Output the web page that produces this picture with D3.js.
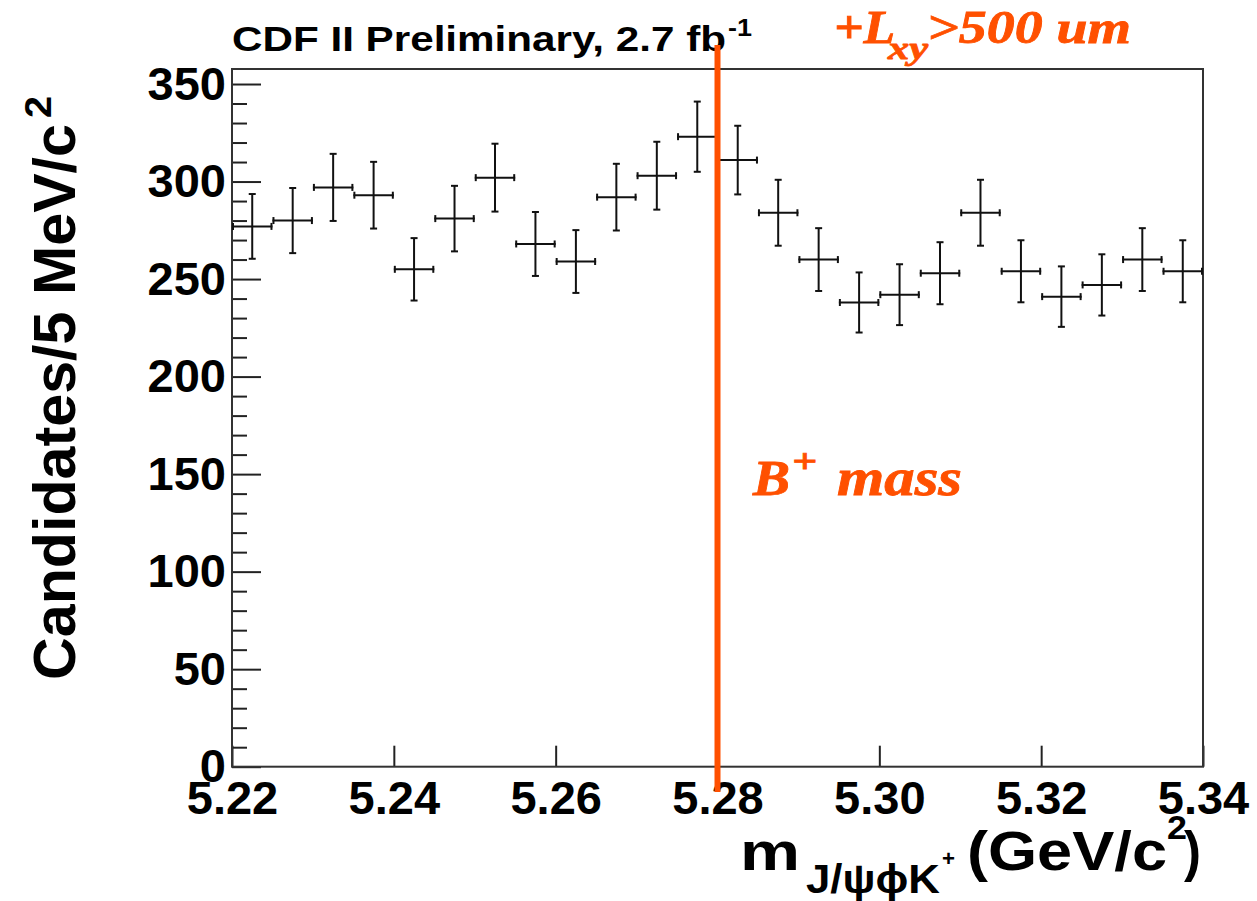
<!DOCTYPE html>
<html>
<head>
<meta charset="utf-8">
<script src="https://cdn.jsdelivr.net/npm/d3@7"></script>
<style>
  html, body { margin: 0; padding: 0; background: #fff; }
  svg { display: block; }
  .sans { font-family: "Liberation Sans", Arial, Helvetica, sans-serif; font-weight: bold; }
  .serif { font-family: "Liberation Serif", "Times New Roman", serif; font-weight: bold; font-style: italic; }
</style>
</head>
<body>
<svg id="chart" width="1257" height="901"></svg>
<script>
// ---- data ----
const binCenters = [5.2225, 5.2275, 5.2325, 5.2375, 5.2425, 5.2475, 5.2525, 5.2575,
                    5.2625, 5.2675, 5.2725, 5.2775, 5.2825, 5.2875, 5.2925, 5.2975,
                    5.3025, 5.3075, 5.3125, 5.3175, 5.3225, 5.3275, 5.3325, 5.3375];
const counts = [277, 280, 297, 293, 255, 281, 302, 268, 259, 292, 303, 323,
                311, 284, 260, 238, 242, 253, 284, 254, 241, 247, 260, 254];
const errors = [16.6, 16.7, 17.2, 17.1, 16.0, 16.8, 17.4, 16.4, 16.1, 17.1, 17.4, 18.0,
                17.6, 16.9, 16.1, 15.4, 15.6, 15.9, 16.9, 15.9, 15.5, 15.7, 16.1, 15.9];
const binHalfWidth = 0.0025;
const xTicks = [5.22, 5.24, 5.26, 5.28, 5.30, 5.32, 5.34];
const yTicks = [0, 50, 100, 150, 200, 250, 300, 350];
const yMinorTicks = [10,20,30,40,60,70,80,90,110,120,130,140,160,170,180,190,210,220,230,240,260,270,280,290,310,320,330,340];
const bMass = 5.280;

const svg = d3.select("#chart");
const L = 232, R = 1203, T = 69, B = 766.7;
const x = d3.scaleLinear().domain([5.22, 5.34]).range([L, R]);
const y = d3.scaleLinear().domain([0, 357.7]).range([B, T]);

// y minor ticks
const yMinor = svg.append("g").attr("transform", `translate(${L},0)`)
  .call(d3.axisLeft(y).tickValues(yMinorTicks).tickSizeInner(-15).tickSizeOuter(0).tickFormat(""));
yMinor.select(".domain").remove();
yMinor.selectAll("line").attr("stroke", "#222").attr("stroke-width", 2);

// y major
const yAx = svg.append("g").attr("transform", `translate(${L},0)`)
  .call(d3.axisLeft(y).tickValues(yTicks).tickSizeInner(-29).tickSizeOuter(0).tickPadding(6).tickFormat(d3.format("d")));
yAx.select(".domain").remove();
yAx.selectAll("line").attr("stroke", "#222").attr("stroke-width", 2);
yAx.selectAll("text").attr("class", "sans").attr("font-size", 47).attr("fill", "#000");

// x major
const xAx = svg.append("g").attr("transform", `translate(0,${B})`)
  .call(d3.axisBottom(x).tickValues(xTicks).tickSizeInner(-21).tickSizeOuter(0).tickPadding(14).tickFormat(d3.format(".2f")));
xAx.select(".domain").remove();
xAx.selectAll("line").attr("stroke", "#222").attr("stroke-width", 2);
xAx.selectAll("text").attr("class", "sans").attr("font-size", 47).attr("fill", "#000");

// frame
svg.append("rect").attr("x", L).attr("y", T).attr("width", R - L).attr("height", B - T)
  .attr("fill", "none").attr("stroke", "#333").attr("stroke-width", 2);

// data points with error bars
const pts = binCenters.map((c, i) => ({c, v: counts[i], e: errors[i]}));
const g = svg.append("g").attr("stroke", "#111").attr("stroke-width", 2).attr("fill", "none");
const cap = 3.5;
pts.forEach(d => {
  const cx = x(d.c), cy = y(d.v);
  const x0 = x(d.c - binHalfWidth), x1 = x(d.c + binHalfWidth);
  const y0 = y(d.v - d.e), y1 = y(d.v + d.e);
  g.append("line").attr("x1", x0).attr("x2", x1).attr("y1", cy).attr("y2", cy);
  g.append("line").attr("x1", cx).attr("x2", cx).attr("y1", y0).attr("y2", y1);
  g.append("line").attr("x1", x0 + 1).attr("x2", x0 + 1).attr("y1", cy - cap).attr("y2", cy + cap);
  g.append("line").attr("x1", x1 - 1).attr("x2", x1 - 1).attr("y1", cy - cap).attr("y2", cy + cap);
  g.append("line").attr("x1", cx - cap).attr("x2", cx + cap).attr("y1", y0).attr("y2", y0);
  g.append("line").attr("x1", cx - cap).attr("x2", cx + cap).attr("y1", y1).attr("y2", y1);
});

// title
svg.append("text").attr("class", "sans").attr("x", 232).attr("y", 51).attr("font-size", 35)
  .attr("textLength", 494).attr("lengthAdjust", "spacingAndGlyphs").text("CDF II Preliminary, 2.7 fb");
svg.append("text").attr("class", "sans").attr("x", 728).attr("y", 36).attr("font-size", 24)
  .attr("textLength", 24).attr("lengthAdjust", "spacingAndGlyphs").text("-1");

// y axis title
svg.append("text").attr("class", "sans").attr("font-size", 60)
  .attr("transform", "translate(75,680) rotate(-90)")
  .attr("textLength", 556).attr("lengthAdjust", "spacingAndGlyphs").text("Candidates/5 MeV/c");
svg.append("text").attr("class", "sans").attr("font-size", 36)
  .attr("transform", "translate(51,118) rotate(-90)")
  .attr("textLength", 22).attr("lengthAdjust", "spacingAndGlyphs").text("2");

// x axis title
svg.append("text").attr("class", "sans").attr("x", 740).attr("y", 870).attr("font-size", 54)
  .attr("textLength", 60).attr("lengthAdjust", "spacingAndGlyphs").text("m");
svg.append("text").attr("class", "sans").attr("x", 806).attr("y", 893).attr("font-size", 40)
  .attr("textLength", 134).attr("lengthAdjust", "spacingAndGlyphs").text("J/ψϕK");
svg.append("text").attr("class", "sans").attr("x", 942).attr("y", 866).attr("font-size", 22)
  .attr("textLength", 13).attr("lengthAdjust", "spacingAndGlyphs").text("+");
svg.append("text").attr("class", "sans").attr("x", 967).attr("y", 870).attr("font-size", 55)
  .attr("textLength", 200).attr("lengthAdjust", "spacingAndGlyphs").text("(GeV/c");
svg.append("text").attr("class", "sans").attr("x", 1167).attr("y", 839).attr("font-size", 34)
  .attr("textLength", 20).attr("lengthAdjust", "spacingAndGlyphs").text("2");
svg.append("text").attr("class", "sans").attr("x", 1184).attr("y", 870).attr("font-size", 55)
  .attr("textLength", 17).attr("lengthAdjust", "spacingAndGlyphs").text(")");

// B+ mass line
const orange = "#ff5000";
svg.append("line").attr("x1", x(bMass)).attr("x2", x(bMass)).attr("y1", 45).attr("y2", 792)
  .attr("stroke", orange).attr("stroke-width", 6);

// orange annotations
const serifText = (tx, ty, size, len, str) =>
  svg.append("text").attr("class", "serif").attr("fill", orange).attr("stroke", orange).attr("stroke-width", 0.8)
    .attr("x", tx).attr("y", ty).attr("font-size", size)
    .attr("textLength", len).attr("lengthAdjust", "spacingAndGlyphs").text(str);
serifText(834, 43, 46, 61, "+L");
serifText(888, 59, 31, 40, "xy");
serifText(927, 43, 46, 204, ">500 um");
serifText(753, 495, 50, 37, "B");
serifText(792, 472, 34, 25, "+");
serifText(837, 495, 52, 125, "mass");
</script>
</body>
</html>
